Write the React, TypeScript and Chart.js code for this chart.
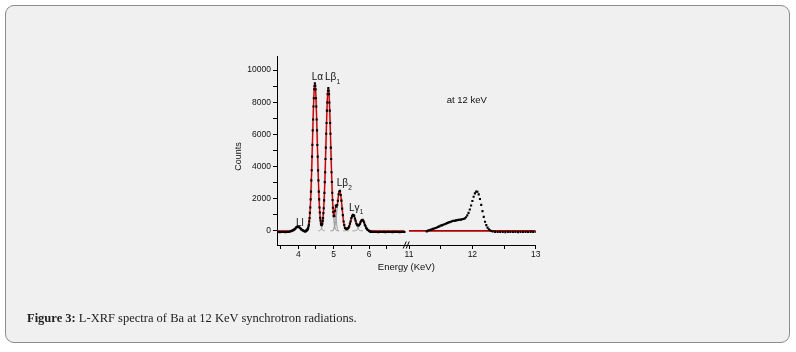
import React, { useEffect, useRef } from 'react';
import { Chart, registerables, LinearScale } from 'chart.js';

Chart.register(...registerables);

// ---------- data (energy in keV, counts) ----------
const LEFT_ENERGY = [
  3.40, 3.44, 3.48, 3.52, 3.56, 3.60, 3.64, 3.68, 3.72, 3.76,
  3.80, 3.82, 3.84, 3.86, 3.88, 3.90, 3.92, 3.94, 3.96, 3.98, 4.00, 4.02, 4.04, 4.06, 4.08, 4.10, 4.12, 4.14, 4.16, 4.18,
  4.20, 4.21, 4.22, 4.23, 4.24, 4.25, 4.26, 4.27, 4.28, 4.29,
  4.30, 4.31, 4.32, 4.33, 4.34, 4.35, 4.36, 4.37, 4.38, 4.39,
  4.40, 4.41, 4.42, 4.43, 4.44, 4.45, 4.46, 4.47, 4.48, 4.49,
  4.50, 4.51, 4.52, 4.53, 4.54, 4.55, 4.56, 4.57, 4.58, 4.59,
  4.60, 4.61, 4.62, 4.63, 4.64, 4.65, 4.66, 4.67, 4.68, 4.69,
  4.70, 4.71, 4.72, 4.73, 4.74, 4.75, 4.76, 4.77, 4.78, 4.79,
  4.80, 4.81, 4.82, 4.83, 4.84, 4.85, 4.86, 4.87, 4.88, 4.89,
  4.90, 4.91, 4.92, 4.93, 4.94, 4.95, 4.96, 4.97, 4.98, 4.99, 5.00,
  5.02, 5.04, 5.06, 5.08, 5.10, 5.12, 5.14, 5.16, 5.18, 5.20,
  5.22, 5.24, 5.26, 5.28, 5.30, 5.32, 5.34, 5.36, 5.38, 5.40,
  5.42, 5.44, 5.46, 5.48, 5.50, 5.52, 5.54, 5.56, 5.58, 5.60,
  5.62, 5.64, 5.66, 5.68, 5.70, 5.72, 5.74, 5.76, 5.78, 5.80,
  5.82, 5.84, 5.86, 5.88, 5.90, 5.92, 5.94, 5.96, 5.98, 6.00,
  6.02, 6.04, 6.06, 6.08, 6.10,
  6.14, 6.18, 6.22, 6.26, 6.30, 6.34, 6.38, 6.42, 6.46, 6.50, 6.54, 6.58,
  6.62, 6.66, 6.70, 6.74, 6.78, 6.82, 6.86, 6.90, 6.94, 6.98, 7.00,
];

const LEFT_MEASURED = [
  -70, -60, -80, -70, -60, -70, -80, -60, -70, -50,
  -20, 10, 20, 40, 80, 110, 150, 210, 230, 260, 250, 240, 190, 160, 110, 70, 40, 20, -10, -40,
  -30, -20, 10, 20, 30, 60, 80, 130, 170, 290,
  390, 590, 790, 1120, 1450, 1960, 2440, 3140, 3770, 4620,
  5350, 6250, 6930, 7740, 8250, 8810, 9010, 9180, 9020, 8800,
  8250, 7740, 6930, 6250, 5340, 4620, 3760, 3140, 2440, 1960,
  1450, 1140, 810, 640, 460, 400, 350, 400, 450, 620,
  790, 1100, 1410, 1900, 2360, 3030, 3650, 4470, 5180, 6040,
  6710, 7480, 7990, 8510, 8720, 8880, 8720, 8510, 7990, 7480,
  6710, 6040, 5180, 4470, 3650, 3040, 2370, 1920, 1440, 1170, 920,
  930, 1240, 1580, 1510, 1610, 1870, 2280, 2450, 2490, 2230,
  1880, 1380, 980, 580, 360, 180, 150, 110, 140, 150,
  190, 280, 450, 590, 790, 900, 1000, 980, 930, 770,
  640, 460, 390, 340, 350, 360, 430, 540, 630, 670,
  690, 610, 520, 380, 300, 180, 120, 60, 40, -10,
  -30, -50, -60, -70, -60,
  -70, -60, -70, -80, -60, -70, -70, -60, -80, -70, -60, -70,
  -70, -80, -60, -70, -60, -70, -80, -70, -60, -70, -70,
];

const LEFT_FIT = [
  0, 0, 0, 0, 0, 0, 0, 0, 0, 0,
  7, 14, 26, 46, 76, 114, 158, 201, 237, 257, 257, 237, 201, 158, 114, 76, 46, 26, 14, 7,
  5, 6, 11, 18, 30, 48, 78, 121, 183, 275,
  403, 576, 805, 1098, 1473, 1931, 2471, 3102, 3806, 4584,
  5389, 6204, 6981, 7695, 8299, 8766, 9050, 9150, 9050, 8766,
  8299, 7695, 6981, 6204, 5389, 4584, 3806, 3102, 2474, 1937,
  1483, 1116, 834, 623, 478, 392, 360, 387, 467, 606,
  809, 1080, 1436, 1873, 2393, 3000, 3682, 4434, 5213, 6000,
  6753, 7443, 8027, 8478, 8753, 8850, 8753, 8478, 8027, 7443,
  6753, 6000, 5213, 4437, 3687, 3008, 2403, 1892, 1470, 1148, 941,
  902, 1267, 1555, 1533, 1588, 1891, 2251, 2470, 2470, 2248,
  1860, 1400, 958, 598, 345, 190, 140, 120, 125, 150,
  200, 291, 438, 607, 775, 912, 990, 991, 915, 782,
  630, 480, 385, 345, 345, 380, 450, 540, 620, 675,
  680, 625, 530, 400, 285, 189, 116, 66, 34, 16,
  7, 3, 0, 0, 0,
  0, 0, 0, 0, 0, 0, 0, 0, 0, 0, 0, 0,
  0, 0, 0, 0, 0, 0, 0, 0, 0, 0, 0,
];

const RIGHT_ENERGY = [
  11.28, 11.30, 11.32, 11.34, 11.36, 11.38, 11.40, 11.42, 11.44, 11.46,
  11.48, 11.50, 11.52, 11.54, 11.56, 11.58, 11.60, 11.62, 11.64, 11.66,
  11.68, 11.70, 11.72, 11.74, 11.76, 11.78, 11.80, 11.82, 11.84, 11.86,
  11.88, 11.90, 11.92, 11.94, 11.96, 11.98, 12.00, 12.02, 12.04, 12.06,
  12.08, 12.10, 12.12, 12.14, 12.16, 12.18, 12.20, 12.22, 12.24, 12.26,
  12.28, 12.30, 12.32,
  12.36, 12.40, 12.44, 12.48, 12.52, 12.56, 12.60, 12.64, 12.68, 12.72,
  12.76, 12.80, 12.84, 12.88, 12.92, 12.96, 13.00,
];

const RIGHT_MEASURED = [
  -30, 20, 40, 60, 90, 120, 150, 180, 210, 250,
  280, 330, 340, 380, 410, 440, 480, 510, 540, 570,
  600, 630, 620, 650, 660, 680, 690, 700, 720, 740,
  780, 850, 960, 1120, 1330, 1580, 1860, 2120, 2330, 2440,
  2430, 2270, 1980, 1620, 1230, 870, 570, 360, 200, 100,
  40, -10, -40,
  -60, -70, -60, -70, -80, -60, -70, -70, -60, -80,
  -70, -60, -70, -70, -60, -70, -70,
];

const RIGHT_FIT_ENERGY = [11.0, 13.0];
const RIGHT_FIT = [0, 0];

// fitted components (grey)
const LL_ENERGY = [3.76, 3.78, 3.80, 3.82, 3.84, 3.86, 3.88, 3.90, 3.92, 3.94, 3.96, 3.98, 4.00, 4.02, 4.04, 4.06, 4.08, 4.10, 4.12, 4.14, 4.16, 4.18, 4.20, 4.22];
const LL_COUNTS = [0, 3, 7, 14, 26, 46, 76, 114, 158, 201, 237, 257, 257, 237, 201, 158, 114, 76, 46, 26, 14, 7, 3, 0];

const LA_ENERGY = [4.19, 4.21, 4.23, 4.25, 4.27, 4.29, 4.31, 4.33, 4.35, 4.37, 4.39, 4.41, 4.43, 4.45, 4.47, 4.49, 4.51, 4.53, 4.55, 4.57, 4.59, 4.61, 4.63, 4.65, 4.67, 4.69, 4.71, 4.73, 4.75];
const LA_COUNTS = [0, 6, 18, 48, 121, 275, 576, 1098, 1931, 3102, 4584, 6204, 7695, 8766, 9150, 8766, 7695, 6204, 4584, 3102, 1931, 1098, 576, 275, 121, 48, 18, 6, 0];

const LB1_ENERGY = [4.57, 4.59, 4.61, 4.63, 4.65, 4.67, 4.69, 4.71, 4.73, 4.75, 4.77, 4.79, 4.81, 4.83, 4.85, 4.87, 4.89, 4.91, 4.93, 4.95, 4.97, 4.99, 5.01, 5.03, 5.05, 5.07, 5.09, 5.11, 5.13];
const LB1_COUNTS = [0, 6, 18, 47, 117, 266, 558, 1062, 1867, 3000, 4434, 6000, 7443, 8478, 8850, 8478, 7443, 6000, 4434, 3000, 1867, 1062, 558, 266, 117, 47, 18, 6, 0];

const LB_MINOR_ENERGY = [4.955, 4.975, 4.995, 5.015, 5.035, 5.055, 5.075, 5.095, 5.115, 5.135, 5.155];
const LB_MINOR_COUNTS = [0, 5, 50, 250, 654, 900, 654, 250, 50, 5, 0];

const LB2_ENERGY = [4.91, 4.93, 4.95, 4.97, 4.99, 5.01, 5.03, 5.05, 5.07, 5.09, 5.11, 5.13, 5.15, 5.17, 5.19, 5.21, 5.23, 5.25, 5.27, 5.29, 5.31, 5.33, 5.35, 5.37, 5.39, 5.41, 5.43];
const LB2_COUNTS = [0, 3, 8, 22, 54, 121, 246, 455, 766, 1173, 1633, 2069, 2385, 2500, 2385, 2069, 1633, 1173, 766, 455, 246, 121, 54, 22, 8, 3, 0];

const LG1_ENERGY = [5.27, 5.29, 5.31, 5.33, 5.35, 5.37, 5.39, 5.41, 5.43, 5.45, 5.47, 5.49, 5.51, 5.53, 5.55, 5.57, 5.59, 5.61, 5.63, 5.65, 5.67, 5.69, 5.71, 5.73, 5.75, 5.77, 5.79, 5.81, 5.83];
const LG1_COUNTS = [0, 1, 3, 7, 17, 37, 73, 135, 230, 360, 521, 693, 849, 960, 1000, 960, 849, 693, 521, 360, 230, 135, 73, 37, 17, 7, 3, 1, 0];

const LG2_ENERGY = [5.53, 5.55, 5.57, 5.59, 5.61, 5.63, 5.65, 5.67, 5.69, 5.71, 5.73, 5.75, 5.77, 5.79, 5.81, 5.83, 5.85, 5.87, 5.89, 5.91, 5.93, 5.95, 5.97, 5.99, 6.01, 6.03, 6.05, 6.07, 6.09];
const LG2_COUNTS = [0, 1, 2, 5, 11, 24, 47, 88, 150, 234, 339, 450, 552, 624, 650, 624, 552, 450, 339, 234, 150, 88, 47, 24, 11, 5, 2, 1, 0];

const X_TICKS = [3.5, 4, 4.5, 5, 5.5, 6, 6.5, 11, 11.5, 12, 12.5, 13];
const Y_TICKS = [0, 1000, 2000, 3000, 4000, 5000, 6000, 7000, 8000, 9000, 10000];

const PEAK_LABELS = [
  { text: 'Ll', sub: '', energy: 3.935, counts: 312 },
  { text: 'L\u03b1', sub: '', energy: 4.379, counts: 9376 },
  { text: 'L\u03b2', sub: '1', energy: 4.754, counts: 9376 },
  { text: 'L\u03b2', sub: '2', energy: 5.085, counts: 2764 },
  { text: 'L\u03b3', sub: '1', energy: 5.432, counts: 1248 },
];
const NOTE = { text: 'at 12 keV', energy: 11.596, counts: 7960 };

const X_TITLE = 'Energy (KeV)';
const Y_TITLE = 'Counts';
const CAPTION_BOLD = 'Figure 3:';
const CAPTION_TEXT = ' L-XRF spectra of Ba at 12 KeV synchrotron radiations.';

// ---------- broken x axis (two linear pieces) ----------
const AXIS_LEFT_PIECE = [3.4, 7.129];
const AXIS_RIGHT_PIECE = [11, 13];
const AXIS_SPLIT = 0.5103;
const LEFT_DATA_END = 7.0;

class BrokenLinearScale extends LinearScale {
  static id = 'brokenLinear';
  getPixelForValue(value: any) {
    if (value === null || value === undefined || isNaN(value)) return NaN;
    const [a0, a1] = AXIS_LEFT_PIECE;
    const [b0, b1] = AXIS_RIGHT_PIECE;
    let frac;
    if (value <= a1) frac = ((value - a0) / (a1 - a0)) * AXIS_SPLIT;
    else if (value >= b0) frac = AXIS_SPLIT + ((value - b0) / (b1 - b0)) * (1 - AXIS_SPLIT);
    else frac = AXIS_SPLIT;
    return (this as any).getPixelForDecimal(frac);
  }
}
Chart.register(BrokenLinearScale as any);

const pairs = (xs: number[], ys: number[]) => xs.map((x, i) => ({ x, y: ys[i] }));

const SANS = 'Arial, "Liberation Sans", sans-serif';

const overlayPlugin = {
  id: 'overlay',
  afterDraw(chart: any) {
    const { ctx, chartArea } = chart;
    const xs = chart.scales.x;
    const ys = chart.scales.y;
    ctx.save();
    ctx.fillStyle = '#111';
    ctx.textAlign = 'left';
    ctx.textBaseline = 'alphabetic';
    for (const lab of PEAK_LABELS) {
      const px = xs.getPixelForValue(lab.energy);
      const py = ys.getPixelForValue(lab.counts);
      ctx.font = `10px ${SANS}`;
      ctx.fillText(lab.text, px, py);
      if (lab.sub) {
        const w = ctx.measureText(lab.text).width;
        ctx.font = `6.5px ${SANS}`;
        ctx.fillText(lab.sub, px + w + 0.3, py + 3.5);
      }
    }
    ctx.font = `9.5px ${SANS}`;
    ctx.fillText(NOTE.text, xs.getPixelForValue(NOTE.energy), ys.getPixelForValue(NOTE.counts));

    // axis break marks
    const bx = (xs.getPixelForValue(LEFT_DATA_END) + xs.getPixelForValue(AXIS_RIGHT_PIECE[0])) / 2;
    const by = chartArea.bottom;
    ctx.strokeStyle = '#000';
    ctx.lineWidth = 1;
    ctx.beginPath();
    ctx.moveTo(bx - 3.5, by + 3.5);
    ctx.lineTo(bx - 0.5, by - 3.5);
    ctx.moveTo(bx - 0.5, by + 3.5);
    ctx.lineTo(bx + 2.5, by - 3.5);
    ctx.stroke();

    // axis titles
    ctx.textAlign = 'center';
    ctx.textBaseline = 'middle';
    ctx.font = `9.5px ${SANS}`;
    ctx.fillText(X_TITLE, (chartArea.left + chartArea.right) / 2, chartArea.bottom + 22.5);
    ctx.save();
    ctx.translate(chartArea.left - 38, (chartArea.top + chartArea.bottom) / 2 + 6);
    ctx.rotate(-Math.PI / 2);
    ctx.font = `9px ${SANS}`;
    ctx.fillText(Y_TITLE, 0, 0);
    ctx.restore();
    ctx.restore();
  },
};

export default function App() {
  const canvasRef = useRef<HTMLCanvasElement | null>(null);

  useEffect(() => {
    const canvas = canvasRef.current;
    if (!canvas) return;
    const grey = '#9a9a9a';
    const componentDataset = (xs: number[], ys: number[]) => ({
      data: pairs(xs, ys),
      showLine: true,
      borderColor: grey,
      borderWidth: 1,
      pointRadius: 0,
      cubicInterpolationMode: 'monotone',
      order: 5,
    });
    const chart = new Chart(canvas, {
      type: 'scatter',
      data: {
        datasets: [
          {
            data: pairs(LEFT_ENERGY, LEFT_MEASURED),
            showLine: false,
            pointStyle: 'rect',
            pointRadius: 1.5,
            pointBackgroundColor: '#000',
            pointBorderWidth: 0,
            order: 0,
          },
          {
            data: pairs(RIGHT_ENERGY, RIGHT_MEASURED),
            showLine: false,
            pointStyle: 'rect',
            pointRadius: 1.5,
            pointBackgroundColor: '#000',
            pointBorderWidth: 0,
            order: 0,
          },
          {
            data: pairs(LEFT_ENERGY, LEFT_FIT),
            showLine: true,
            borderColor: '#c80000',
            borderWidth: 1.3,
            pointRadius: 0,
            cubicInterpolationMode: 'monotone',
            order: 1,
          },
          {
            data: pairs(RIGHT_FIT_ENERGY, RIGHT_FIT),
            showLine: true,
            borderColor: '#b00000',
            borderWidth: 1.6,
            pointRadius: 0,
            order: 1,
          },
          {
            data: pairs(LEFT_ENERGY, LEFT_FIT),
            showLine: true,
            borderColor: 'rgba(220,140,140,0.35)',
            borderWidth: 2.4,
            pointRadius: 0,
            cubicInterpolationMode: 'monotone',
            order: 2,
          },
          componentDataset(LL_ENERGY, LL_COUNTS),
          componentDataset(LA_ENERGY, LA_COUNTS),
          componentDataset(LB1_ENERGY, LB1_COUNTS),
          componentDataset(LB_MINOR_ENERGY, LB_MINOR_COUNTS),
          componentDataset(LB2_ENERGY, LB2_COUNTS),
          componentDataset(LG1_ENERGY, LG1_COUNTS),
          componentDataset(LG2_ENERGY, LG2_COUNTS),
        ] as any,
      },
      options: {
        responsive: false,
        animation: false,
        events: [],
        layout: { padding: { left: 230, top: 56, right: 260.3, bottom: 60 } },
        plugins: { legend: { display: false }, tooltip: { enabled: false } },
        scales: {
          x: {
            type: 'brokenLinear' as any,
            min: 3.4,
            max: 13,
            afterBuildTicks: (scale: any) => {
              scale.ticks = X_TICKS.map((value) => ({ value }));
            },
            afterFit: (scale: any) => {
              scale.height = 47;
            },
            border: { display: true, color: '#000', width: 1 },
            grid: { display: true, drawOnChartArea: false, drawTicks: true, tickLength: 4, tickColor: '#000', tickWidth: 1 },
            ticks: {
              autoSkip: false,
              maxRotation: 0,
              minRotation: 0,
              padding: 1,
              color: '#111',
              font: { family: SANS, size: 8.5 },
              callback: (v: any) => (Number.isInteger(v) ? String(v) : ''),
            },
          } as any,
          y: {
            type: 'linear',
            min: -880,
            max: 10880,
            afterBuildTicks: (scale: any) => {
              scale.ticks = Y_TICKS.map((value) => ({ value }));
            },
            afterFit: (scale: any) => {
              scale.width = 47;
            },
            border: { display: true, color: '#000', width: 1 },
            grid: { display: true, drawOnChartArea: false, drawTicks: true, tickLength: 4, tickColor: '#000', tickWidth: 1 },
            ticks: {
              padding: 2,
              color: '#111',
              font: { family: SANS, size: 8.5 },
              callback: (v: any) => (v % 2000 === 0 ? String(v) : ''),
            },
          },
        },
      },
      plugins: [overlayPlugin],
    } as any);
    return () => chart.destroy();
  }, []);

  return (
    <div style={{ position: 'absolute', left: 0, top: 0, width: 796, height: 352, background: '#ffffff', overflow: 'hidden' }}>
      <div
        style={{
          position: 'absolute',
          left: 5,
          top: 5,
          width: 783,
          height: 336,
          border: '1px solid #8c8c8c',
          borderRadius: 9,
          background: '#f0f0f0',
        }}
      />
      <canvas ref={canvasRef} width={796} height={352} style={{ position: 'absolute', left: 0, top: 0, width: 796, height: 352 }} />
      <div
        style={{
          position: 'absolute',
          left: 27,
          top: 311,
          fontFamily: '"Liberation Serif", "DejaVu Serif", serif',
          fontSize: 12.5,
          color: '#222',
          whiteSpace: 'nowrap',
        }}
      >
        <b>{CAPTION_BOLD}</b>
        {CAPTION_TEXT}
      </div>
    </div>
  );
}
